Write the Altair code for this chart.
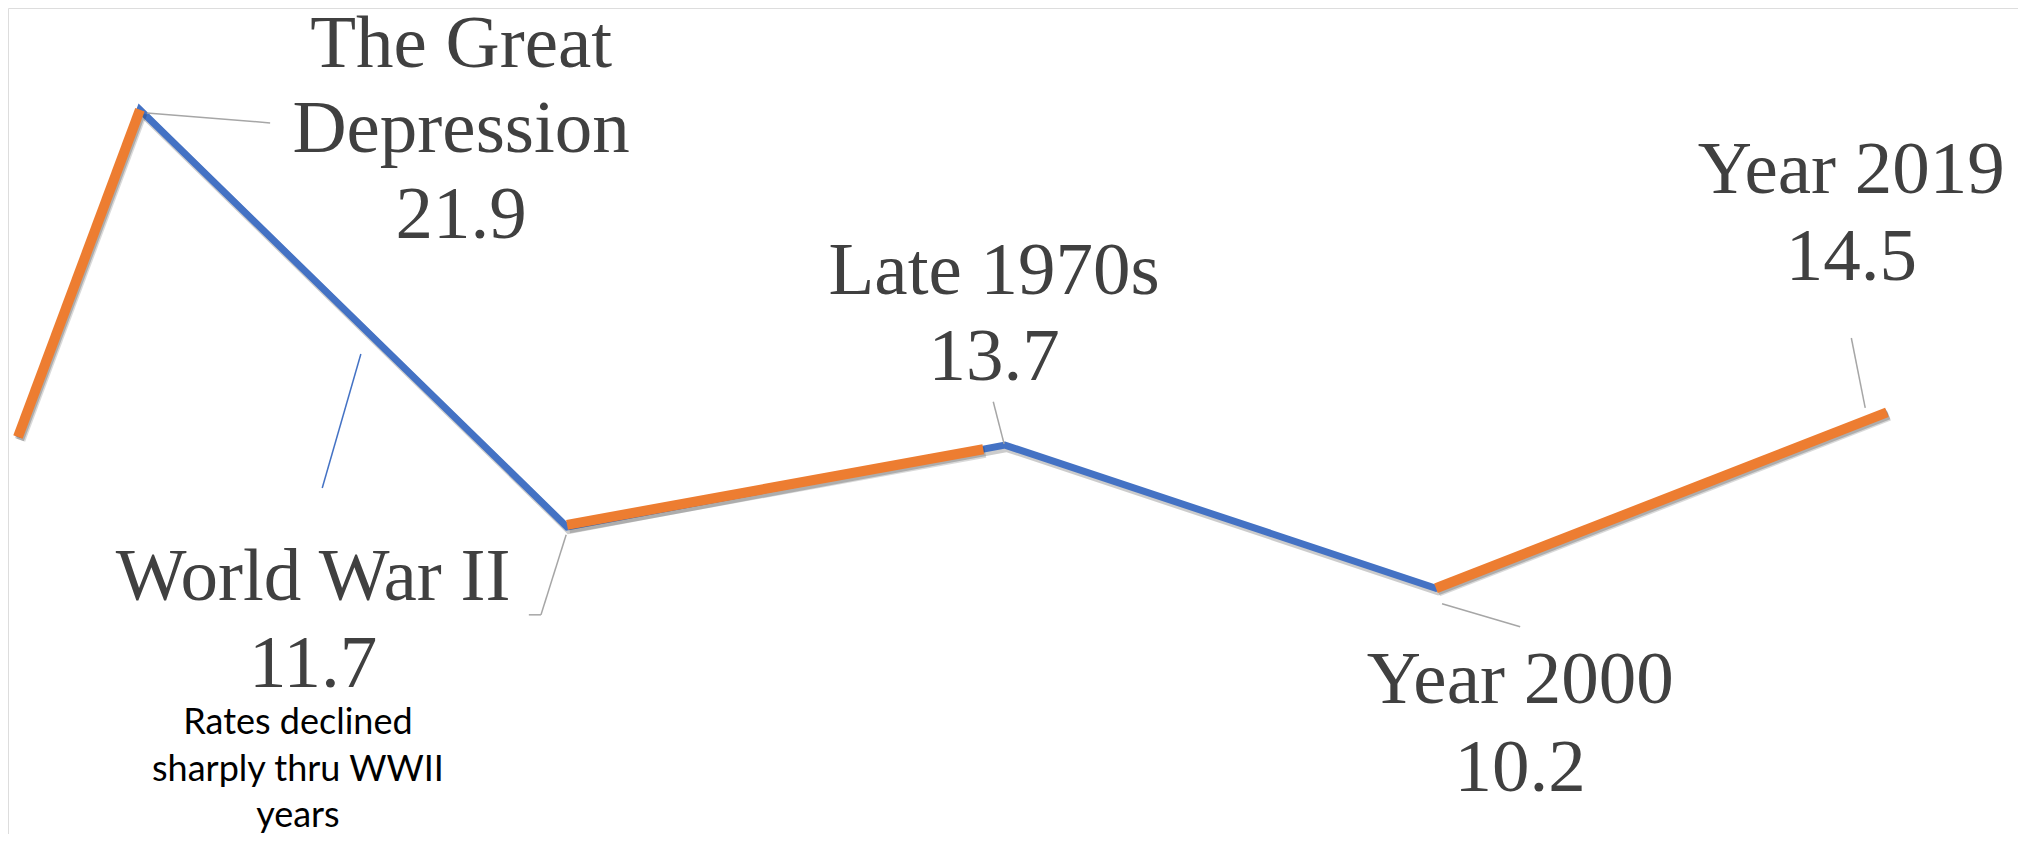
import altair as alt
import pandas as pd

# ---- main series (position along the time axis, rate) ----
pos = [-0.281, 0.0, 0.984, 1.993, 2.986, 4.025]
rate = [13.9, 21.9, 11.7, 13.7, 10.2, 14.5]

# ---- orange highlighted stretches ----
hl_seg = [1, 1, 2, 2, 3, 3]
hl_pos = [-0.281, 0.0, 0.984, 1.943, 2.986, 4.025]
hl_rate = [13.9, 21.9, 11.75, 13.6, 10.2, 14.5]

# ---- big serif labels ----
label_text = ["The Great", "Depression", "21.9", "Late 1970s", "13.7",
              "Year 2019", "14.5", "World War II", "11.7", "Year 2000", "10.2"]
label_x = [0.740, 0.740, 0.740, 1.968, 1.968, 3.943, 3.943, 0.399, 0.399, 3.180, 3.180]
label_y = [22.95, 20.87, 18.77, 17.40, 15.30, 19.87, 17.74, 9.92, 7.79, 7.40, 5.25]

# ---- small note ----
note_text = ["Rates declined", "sharply thru WWII", "years"]
note_x = [0.364, 0.364, 0.364]
note_y = [6.64, 5.49, 4.37]

# ---- leader lines ----
lead_x = [0.016, 1.966, 3.943, 0.982, 0.924, 3.000]
lead_y = [21.82, 14.76, 16.32, 11.51, 9.55, 9.82]
lead_x2 = [0.300, 1.991, 3.975, 0.924, 0.896, 3.180]
lead_y2 = [21.58, 13.73, 14.61, 9.55, 9.55, 9.26]

note_lead_x = [0.509]
note_lead_y = [15.93]
note_lead_x2 = [0.420]
note_lead_y2 = [12.65]

W, H = 2010, 826
xs = alt.Scale(domain=[-0.304, 4.327], nice=False, zero=False)
ys = alt.Scale(domain=[4.19, 24.39], nice=False, zero=False)

main = pd.DataFrame({"pos": pos, "rate": rate})
hl = pd.DataFrame({"seg": hl_seg, "pos": hl_pos, "rate": hl_rate})
labels = pd.DataFrame({"t": label_text, "x": label_x, "y": label_y})
notes = pd.DataFrame({"t": note_text, "x": note_x, "y": note_y})
leads = pd.DataFrame({"x": lead_x, "y": lead_y, "x2": lead_x2, "y2": lead_y2})
nlead = pd.DataFrame({"x": note_lead_x, "y": note_lead_y, "x2": note_lead_x2, "y2": note_lead_y2})

X = alt.X("pos:Q", scale=xs, axis=None)
Y = alt.Y("rate:Q", scale=ys, axis=None)

shadow_blue = alt.Chart(main).mark_line(
    color="#000000", opacity=0.2, strokeWidth=8, xOffset=2, yOffset=3
).encode(x=X, y=Y, order="pos:Q")

blue = alt.Chart(main).mark_line(
    color="#4472C4", strokeWidth=7, strokeJoin="miter"
).encode(x=X, y=Y, order="pos:Q")

shadow_orange = alt.Chart(hl).mark_line(
    color="#000000", opacity=0.15, strokeWidth=11, xOffset=2, yOffset=3
).encode(x=X, y=Y, detail="seg:N", order="pos:Q")

orange = alt.Chart(hl).mark_line(
    color="#ED7D31", strokeWidth=10, strokeCap="butt"
).encode(x=X, y=Y, detail="seg:N", order="pos:Q")

lead_rules = alt.Chart(leads).mark_rule(color="#A6A6A6", strokeWidth=1.5).encode(
    x=alt.X("x:Q", scale=xs, axis=None), y=alt.Y("y:Q", scale=ys, axis=None),
    x2="x2:Q", y2="y2:Q")

note_rule = alt.Chart(nlead).mark_rule(color="#4472C4", strokeWidth=1.5).encode(
    x=alt.X("x:Q", scale=xs, axis=None), y=alt.Y("y:Q", scale=ys, axis=None),
    x2="x2:Q", y2="y2:Q")

label_marks = alt.Chart(labels).mark_text(
    font="Liberation Serif", fontSize=75, color="#404040",
    align="center", baseline="alphabetic"
).encode(x=alt.X("x:Q", scale=xs, axis=None), y=alt.Y("y:Q", scale=ys, axis=None), text="t:N")

note_marks = alt.Chart(notes).mark_text(
    font="Lato", fontSize=36, color="#000000",
    align="center", baseline="alphabetic"
).encode(x=alt.X("x:Q", scale=xs, axis=None), y=alt.Y("y:Q", scale=ys, axis=None), text="t:N")

chart = alt.layer(
    shadow_blue, blue, shadow_orange, orange, lead_rules, note_rule, label_marks, note_marks
).properties(
    width=W, height=H, autosize=alt.AutoSizeParams(type="none"), padding=0
).configure_view(stroke=None).configure(background="#FFFFFF")

chart.save("out.html", embed_options={"renderer": "svg", "actions": False})
